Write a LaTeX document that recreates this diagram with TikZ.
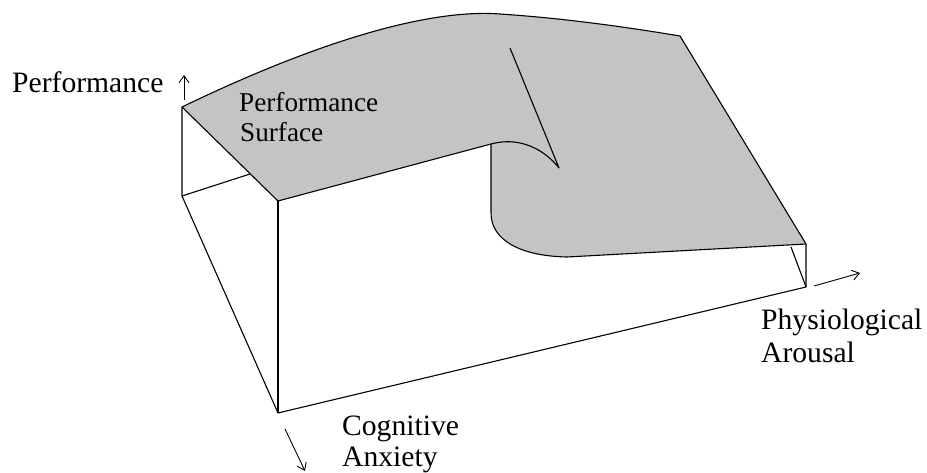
\documentclass[tikz,border=0pt]{standalone}
\usepackage{fontspec}
\setmainfont{Liberation Serif}
\usetikzlibrary{arrows.meta}
\definecolor{surf}{RGB}{196,196,196}
\tikzset{
  edge/.style={draw=black, line width=1.1pt, line join=round},
  axisarrow/.style={draw=black, line width=0.9pt, -{Straight Barb[length=7pt,width=10pt]}},
  bigtxt/.style={anchor=base west, inner sep=0pt, font=\fontsize{29.6}{31}\selectfont},
  smalltxt/.style={anchor=base west, inner sep=0pt, font=\fontsize{27.2}{30}\selectfont}
}
\begin{document}
\begin{tikzpicture}[x=1pt,y=-1pt]
\useasboundingbox (0,0) rectangle (927,473);
% key points
\coordinate (A) at (182,107);   % back-left top
\coordinate (Bb) at (182,196);  % back-left bottom
\coordinate (Bh) at (250,174);  % back bottom edge hidden point
\coordinate (F) at (278,201);   % front-left top
\coordinate (Fb) at (278,413);  % front-left bottom
\coordinate (R) at (806,244);   % front-right top
\coordinate (Rb) at (806,287);  % front-right bottom
\coordinate (Rd) at (791,247);  % right depth edge visible start
\coordinate (T) at (680,36);    % top-right corner of surface
\coordinate (V) at (491,144);   % fold top
\coordinate (Vb) at (491,213);  % fold bottom
\coordinate (L) at (567,257);   % lower curve end
\coordinate (C) at (559,168);   % cusp
\coordinate (Ct) at (510,48);   % cusp line top

% surface fill
\fill[surf] (A) .. controls (300,50) and (420,8) .. (500,14)
   .. controls (560,18) and (620,26) .. (T)
   -- (R) -- (L)
   .. controls (520,256) and (491,240) .. (Vb)
   -- (V) -- (F) -- cycle;

% surface outline
\draw[edge] (A) .. controls (300,50) and (420,8) .. (500,14)
   .. controls (560,18) and (620,26) .. (T) -- (R) -- (L)
   .. controls (520,256) and (491,240) .. (Vb) -- (V);
\draw[edge] (A) -- (F) -- (V) .. controls (520,136) and (545,150) .. (C) -- (Ct);

% box lines
\draw[edge] (A) -- (Bb) -- (Bh);
\draw[edge] (Bb) -- (Fb) -- (Rb) -- (R);
\draw[edge] (F) -- (Fb);
\draw[edge] (Rd) -- (Rb);

% axis arrows
\coordinate (p1) at (184,100); \coordinate (p2) at (184,75);
\draw[axisarrow] (p1) -- (p2);
\coordinate (a1) at (814,286); \coordinate (a2) at (860,273);
\draw[axisarrow] (a1) -- (a2);
\coordinate (c1) at (285,429); \coordinate (c2) at (305,471);
\draw[axisarrow] (c1) -- (c2);

% labels
\node[bigtxt] (perf) at (12,93) {Performance};
\node[smalltxt] (ps1) at (239,112) {Performance};
\node[smalltxt] (ps2) at (240,142) {Surface};
\node[bigtxt] (phy1) at (761,330) {Physiological};
\node[bigtxt] (phy2) at (761,362) {Arousal};
\node[bigtxt] (cog1) at (342,435) {Cognitive};
\node[bigtxt] (cog2) at (342,466) {Anxiety};
\end{tikzpicture}
\end{document}
